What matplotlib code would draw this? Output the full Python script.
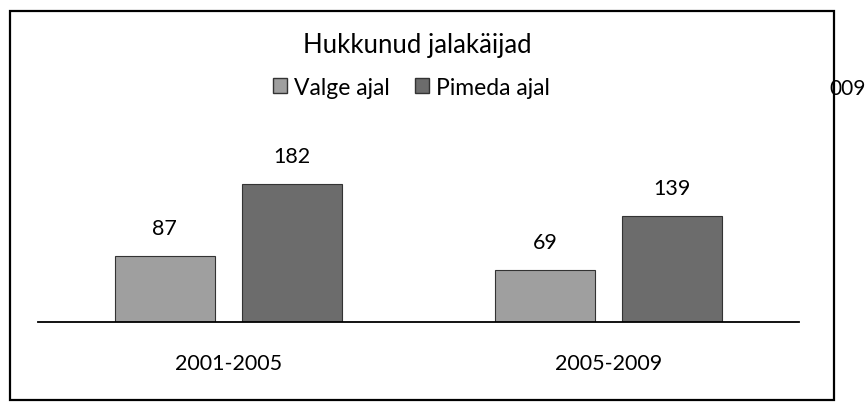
import numpy as np
import matplotlib.pyplot as plt
from matplotlib.patches import Rectangle, Patch

# data
periods = ["2001-2005", "2005-2009"]
valge = [87, 69]
pimeda = [182, 139]
series_names = ["Valge ajal", "Pimeda ajal"]
title = "Hukkunud jalakäijad"

plt.rcParams['font.family'] = ['Lato', 'DejaVu Sans']

fig = plt.figure(figsize=(8.68, 4.10), dpi=100)

# outer frame of the pasted chart
frame = Rectangle((0.0115, 0.022), 0.949, 0.949, transform=fig.transFigure,
                  fill=False, edgecolor="black", linewidth=1.6, zorder=5)
fig.patches.append(frame)

ax = fig.add_axes([0.044, 0.212, 0.876, 0.371])
x = np.arange(len(periods))
w = 0.263
off = 0.167
b1 = ax.bar(x - off, valge, w, color="#9f9f9f", edgecolor="#333333", linewidth=0.8)
b2 = ax.bar(x + off, pimeda, w, color="#6c6c6c", edgecolor="#333333", linewidth=0.8)

ax.bar_label(b1, padding=13, fontsize=15.5)
ax.bar_label(b2, padding=13, fontsize=15.5)

ax.set_xlim(-0.5, 1.5)
ax.set_ylim(0, 200)
for s in ["top", "left", "right"]:
    ax.spines[s].set_visible(False)
ax.spines["bottom"].set_linewidth(1.3)
ax.set_yticks([])
ax.set_xticks(x)
ax.set_xticklabels(periods, fontsize=15.5)
ax.tick_params(axis="x", length=0, pad=22)
ax.patch.set_alpha(0)

fig.text(0.4805, 0.888, title, ha="center", va="center", fontsize=18.5)

handles = [Patch(facecolor="#9f9f9f", edgecolor="#333333"),
           Patch(facecolor="#6c6c6c", edgecolor="#333333")]
fig.legend(handles, series_names, loc="center", bbox_to_anchor=(0.474, 0.785),
           ncol=2, frameon=False, fontsize=16.5, handlelength=0.6, handleheight=0.6,
           handletextpad=0.3, columnspacing=1.1)

# leftover text from the neighbouring chart, cut by the frame
fig.text(0.997, 0.783, "009", ha="right", va="center", fontsize=15)

fig.savefig("out.png", dpi=100)
